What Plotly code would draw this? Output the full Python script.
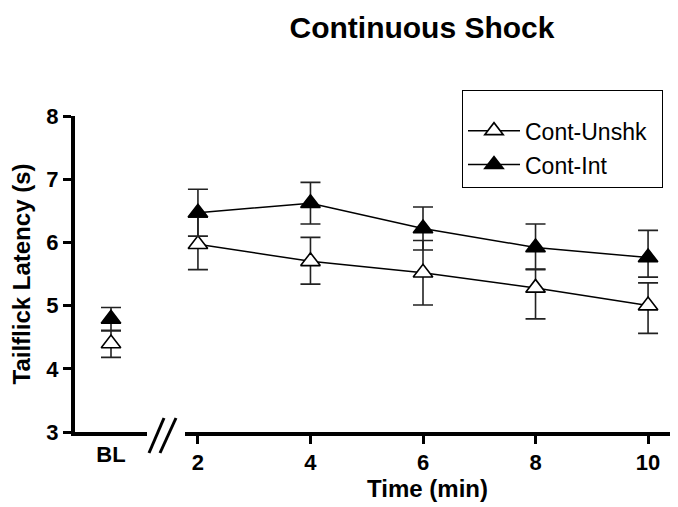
import plotly.graph_objects as go

# ---- data ----
times = [2, 4, 6, 8, 10]
unshk_mean = [5.97, 5.70, 5.52, 5.28, 5.00]
unshk_hi = [6.40, 6.08, 6.03, 5.58, 5.36]
unshk_lo = [5.57, 5.34, 5.01, 4.79, 4.56]
int_mean = [6.47, 6.62, 6.22, 5.92, 5.76]
int_hi = [6.84, 6.95, 6.56, 6.29, 6.19]
int_lo = [6.10, 6.29, 5.88, 5.57, 5.45]

bl_label = ["BL"]
bl_unshk_mean = [4.40]
bl_unshk_hi = [4.60]
bl_unshk_lo = [4.18]
bl_int_mean = [4.79]
bl_int_hi = [4.97]
bl_int_lo = [4.61]

time_ticks = [2, 4, 6, 8, 10]
y_ticks = [3, 4, 5, 6, 7, 8]

FONT = "Arial, Liberation Sans, sans-serif"


def err(mean, hi, lo):
    return dict(type="data", symmetric=False,
                array=[h - m for h, m in zip(hi, mean)],
                arrayminus=[m - l for m, l in zip(mean, lo)],
                color="#222", thickness=1.6, width=10)


fig = go.Figure()

unshk_marker = dict(symbol="triangle-up", size=17, color="white",
                    line=dict(color="black", width=1.6))
int_marker = dict(symbol="triangle-up", size=17, color="black",
                  line=dict(color="black", width=1.6))

# BL points (left axis segment)
fig.add_trace(go.Scatter(x=[0], y=bl_unshk_mean, mode="markers",
                         marker=unshk_marker, error_y=err(bl_unshk_mean, bl_unshk_hi, bl_unshk_lo),
                         xaxis="x", yaxis="y", showlegend=False))
fig.add_trace(go.Scatter(x=[0], y=bl_int_mean, mode="markers",
                         marker=int_marker, error_y=err(bl_int_mean, bl_int_hi, bl_int_lo),
                         xaxis="x", yaxis="y", showlegend=False))

# Time course
fig.add_trace(go.Scatter(x=times, y=unshk_mean, mode="lines+markers", name="Cont-Unshk",
                         line=dict(color="black", width=1.5), marker=unshk_marker,
                         error_y=err(unshk_mean, unshk_hi, unshk_lo),
                         legendgroup="a", xaxis="x2", yaxis="y"))
fig.add_trace(go.Scatter(x=times, y=int_mean, mode="lines+markers", name="Cont-Int",
                         line=dict(color="black", width=1.5), marker=int_marker,
                         error_y=err(int_mean, int_hi, int_lo),
                         legendgroup="b", xaxis="x2", yaxis="y"))

L, R, T, B = 75, 8, 116, 75
W, H = 678, 507
pw = W - L - R
ph = H - T - B

def px(x):
    return (x - L) / pw

def py(y):
    return (H - B - y) / ph

tickfont = dict(family=FONT, size=22, color="black", weight="bold")

fig.update_layout(
    width=W, height=H,
    margin=dict(l=L, r=R, t=T, b=B),
    paper_bgcolor="white", plot_bgcolor="white",
    font=dict(family=FONT, color="black"),
    title=dict(text="<b>Continuous Shock</b>", x=422 / W, xanchor="center",
               y=1 - 27 / H, yanchor="middle", yref="container",
               font=dict(family=FONT, size=30, color="black")),
    xaxis=dict(domain=[0, px(147)], range=[-0.5, 0.5], tickvals=[0], ticktext=bl_label,
               showline=True, linewidth=4, linecolor="black", ticks="",
               showgrid=False, zeroline=False, tickfont=tickfont, anchor="y"),
    xaxis2=dict(domain=[px(185), 1], range=[1.77, 10.39], tickvals=time_ticks,
                showline=True, linewidth=4, linecolor="black", ticks="outside",
                ticklen=8, tickwidth=3, tickcolor="black",
                showgrid=False, zeroline=False, tickfont=tickfont, anchor="y",
                title=dict(text="<b>Time (min)</b>", font=dict(family=FONT, size=24), standoff=6)),
    yaxis=dict(range=[3, 8], tickvals=y_ticks, showline=True, linewidth=4, linecolor="black",
               ticks="outside", ticklen=8, tickwidth=3, tickcolor="black",
               showgrid=False, zeroline=False, tickfont=tickfont, anchor="x",
               title=dict(text="<b>Tailflick Latency (s)</b>", font=dict(family=FONT, size=24), standoff=10)),
    legend=dict(x=px(462), y=py(90), xanchor="left", yanchor="top",
                bordercolor="black", borderwidth=1, bgcolor="white",
                font=dict(family=FONT, size=23, color="black"),
                itemwidth=52, traceorder="grouped", tracegroupgap=1,
                title=dict(text="&nbsp;" * 50, font=dict(size=14))),
    showlegend=True,
)

# axis break marks
for (x0, y0, x1, y1) in [(149, 453, 164, 418), (160, 453, 176, 418)]:
    fig.add_shape(type="line", xref="paper", yref="paper",
                  x0=px(x0), y0=py(y0), x1=px(x1), y1=py(y1),
                  line=dict(color="black", width=3))

fig.write_html("out.html")
